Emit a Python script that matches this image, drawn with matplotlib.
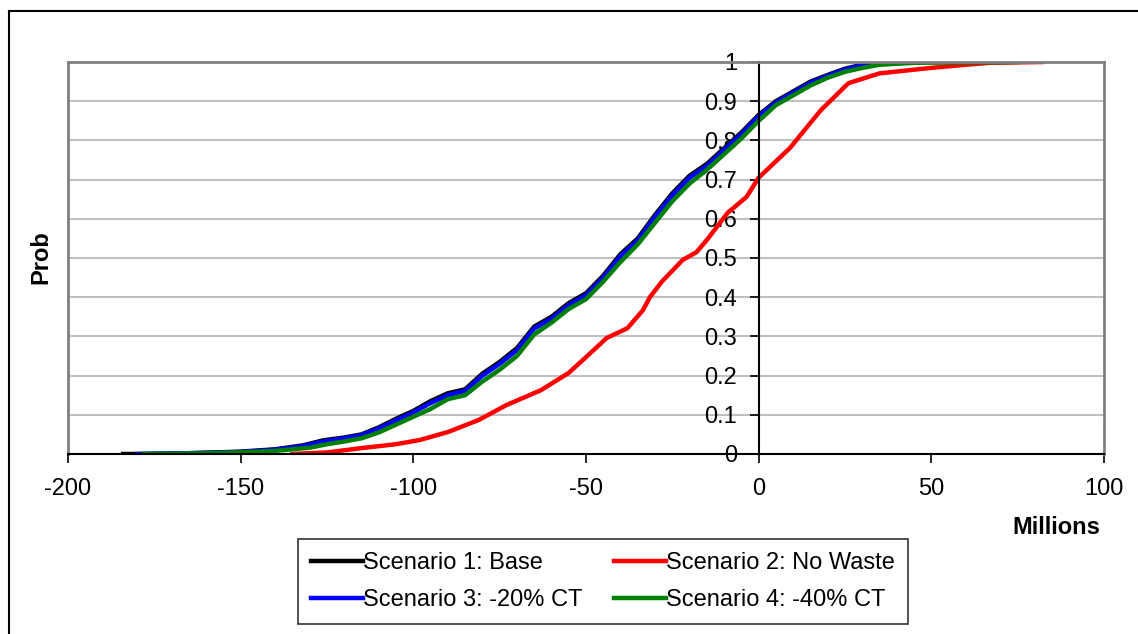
import numpy as np
import matplotlib
matplotlib.use('Agg')
import matplotlib.pyplot as plt
from matplotlib.lines import Line2D

plt.rcParams['font.family'] = ['Liberation Sans', 'DejaVu Sans']

# Scenario 1: Base
x1 = [-184, -178, -165, -150, -140, -132, -126, -120, -115, -110, -105, -100, -95, -90, -85,
      -80, -75, -70, -65, -60, -55, -50, -45, -40, -35, -30, -25, -20, -15, -10, -5, 0,
      5, 10, 15, 20, 25, 30, 35]
p1 = [0, 0, 0.002, 0.006, 0.012, 0.022, 0.035, 0.042, 0.05, 0.068, 0.09, 0.11, 0.135, 0.155, 0.165,
      0.205, 0.235, 0.27, 0.325, 0.35, 0.385, 0.41, 0.455, 0.51, 0.55, 0.61, 0.665, 0.71, 0.74, 0.78, 0.82, 0.865,
      0.9, 0.925, 0.95, 0.967, 0.983, 0.993, 1.0]

# Scenario 2: No Waste
x2 = [-135, -125, -115, -105, -98, -90, -81, -73, -63, -55, -50, -44, -38, -33.5, -31.5,
      -28, -22, -18, -15, -9, -3.5, 0, 9, 18, 26, 35, 50, 60, 67, 82]
p2 = [0, 0.004, 0.015, 0.025, 0.036, 0.056, 0.087, 0.125, 0.163, 0.207, 0.247, 0.296, 0.321, 0.367, 0.40,
      0.44, 0.495, 0.515, 0.546, 0.615, 0.656, 0.705, 0.78, 0.877, 0.946, 0.971, 0.985, 0.993, 0.998, 1.0]

# Scenario 3: -20% CT
x3 = [-180, -165, -150, -140, -132, -126, -120, -115, -110, -105, -100, -95, -90, -85,
      -80, -75, -70, -65, -60, -55, -50, -45, -40, -35, -30, -25, -20, -15, -10, -5, 0,
      5, 10, 15, 20, 25, 30, 35, 40]
p3 = [0, 0.002, 0.005, 0.011, 0.02, 0.032, 0.04, 0.048, 0.065, 0.086, 0.106, 0.13, 0.15, 0.161,
      0.2, 0.23, 0.265, 0.32, 0.345, 0.38, 0.405, 0.45, 0.505, 0.545, 0.605, 0.66, 0.705, 0.735, 0.776, 0.816, 0.862,
      0.897, 0.922, 0.947, 0.965, 0.981, 0.992, 0.999, 1.0]

# Scenario 4: -40% CT
x4 = [-178, -160, -150, -140, -130, -125, -120, -115, -110, -105, -100, -95, -90, -85,
      -80, -75, -70, -65, -60, -55, -50, -45, -40, -35, -30, -25, -20, -15, -10, -5, 0,
      5, 10, 15, 20, 25, 30, 35, 45, 75]
p4 = [0, 0.002, 0.004, 0.008, 0.016, 0.025, 0.032, 0.04, 0.055, 0.075, 0.095, 0.115, 0.14, 0.15,
      0.185, 0.215, 0.25, 0.305, 0.335, 0.37, 0.395, 0.44, 0.49, 0.535, 0.59, 0.645, 0.69, 0.725, 0.765, 0.805, 0.85,
      0.89, 0.915, 0.94, 0.96, 0.975, 0.985, 0.993, 0.998, 1.0]

xticks = [-200, -150, -100, -50, 0, 50, 100]
yticks = [0, 0.1, 0.2, 0.3, 0.4, 0.5, 0.6, 0.7, 0.8, 0.9, 1]
ylabels = ['0', '0.1', '0.2', '0.3', '0.4', '0.5', '0.6', '0.7', '0.8', '0.9', '1']

fs = 17

fig = plt.figure(figsize=(11.38, 6.34), dpi=100)
ax = fig.add_axes([68/1138, 1-454/634, (1104-68)/1138, (454-62)/634])

lw = 3.2
l1, = ax.plot(x1, p1, color='black', lw=lw, label='Scenario 1: Base')
l2, = ax.plot(x2, p2, color='#ff0000', lw=lw, label='Scenario 2: No Waste')
l3, = ax.plot(x3, p3, color='#0000ff', lw=lw, label='Scenario 3: -20% CT')
l4, = ax.plot(x4, p4, color='#008000', lw=lw, label='Scenario 4: -40% CT')

ax.set_xlim(-200, 100)
ax.set_ylim(0, 1)
ax.set_xticks(xticks)
ax.set_xticklabels([str(v) for v in xticks])
ax.set_yticks(yticks)
ax.set_yticklabels(ylabels)

# gridlines
for y in yticks[1:]:
    ax.axhline(y, color='#c0c0c0', lw=1.5, zorder=0)

# plot area border gray, axes through zero black
ax.spines['left'].set_position(('data', 0))
ax.spines['left'].set_color('black')
ax.spines['left'].set_linewidth(1.5)
ax.spines['bottom'].set_color('black')
ax.spines['bottom'].set_linewidth(1.5)
ax.spines['top'].set_color('#808080')
ax.spines['top'].set_linewidth(2)
ax.spines['right'].set_color('#808080')
ax.spines['right'].set_linewidth(2)
ax.plot([0, 0], [0, 1], transform=ax.transAxes, color='#808080', lw=2, clip_on=False, zorder=1)

ax.tick_params(axis='both', direction='out', length=6.5, width=1.2, color='black', labelsize=fs)
ax.tick_params(axis='y', pad=9)
ax.tick_params(axis='x', pad=11)

fig.text(1100/1138, 1-528/634, 'Millions', fontsize=fs, fontweight='bold', ha='right', va='center')
fig.text(41/1138, 1-257/634, 'Prob', fontsize=fs, fontweight='bold', rotation=90, ha='center', va='center')

leg = fig.legend([l1, l3, l2, l4], [l1.get_label(), l3.get_label(), l2.get_label(), l4.get_label()],
                 ncol=2, loc='upper left', bbox_to_anchor=(298/1138, 1-539/634),
                 frameon=True, fancybox=False, fontsize=fs, handlelength=2.2, handletextpad=0.0,
                 columnspacing=1.36, borderpad=0.55, labelspacing=0.64, borderaxespad=0)
leg.get_frame().set_edgecolor('black')
leg.get_frame().set_linewidth(1.2)

# outer chart border (left and top only visible)
fig.add_artist(Line2D([9/1138, 9/1138], [0, 1-11/634], transform=fig.transFigure, color='black', lw=1.5))
fig.add_artist(Line2D([9/1138, 1], [1-11/634, 1-11/634], transform=fig.transFigure, color='black', lw=1.5))

fig.savefig('out.png', dpi=100)
